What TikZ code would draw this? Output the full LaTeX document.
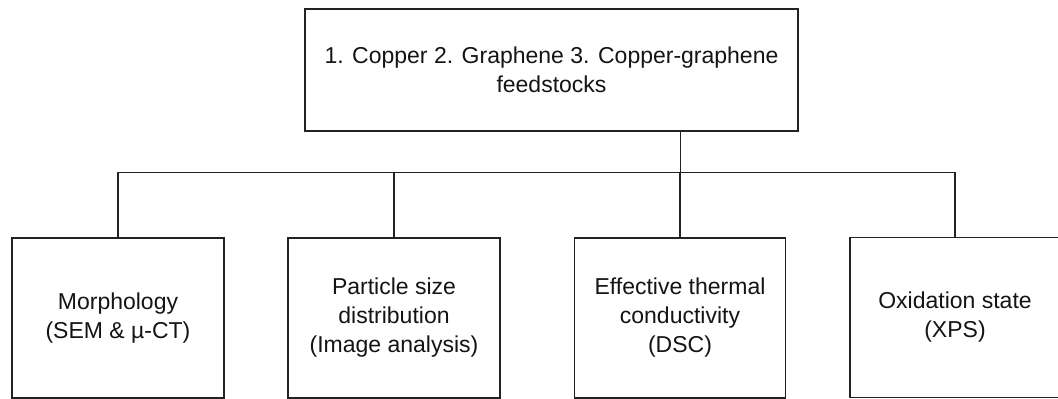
\documentclass[tikz,border=0pt]{standalone}
\usepackage{fontspec}
\setmainfont{Liberation Sans}
\definecolor{linec}{HTML}{222222}
\definecolor{textc}{HTML}{141414}
\begin{document}
\begin{tikzpicture}[x=1pt,y=-1pt,
  box/.style={draw=linec,line width=1.9pt,fill=white,inner sep=0pt,
    align=center,text=textc,
    font=\fontsize{23}{29}\selectfont},
  conn/.style={draw=linec,line width=1.9pt}]
\useasboundingbox (0,0) rectangle (1058,399);
\clip (0,0) rectangle (1058,399);
\fill[white] (0,0) rectangle (1058,399);
\node[box,minimum width=493pt,minimum height=122pt] (top) at (551.5,70)
  {1. Copper 2. Graphene 3. Copper-graphene\\feedstocks};
\node[box,minimum width=212pt,minimum height=160pt] (b1) at (118,318)
  {Morphology\\(SEM \& µ-CT)};
\node[box,minimum width=212pt,minimum height=160pt] (b2) at (394,318)
  {Particle size\\distribution\\(Image analysis)};
\node[box,minimum width=211pt,minimum height=160pt] (b3) at (680,318)
  {Effective thermal\\conductivity\\(DSC)};
\node[box,minimum width=210pt,minimum height=160pt] (b4) at (955,317.5)
  {Oxidation state\\(XPS)};
\coordinate (j) at (680.5,172.5);
\draw[conn] (j |- top.south) -- (j);
\draw[conn] (b1.north) |- (j) -| (b4.north);
\draw[conn] (b2.north) -- (b2.north |- j);
\draw[conn] (b3.north) -- (b3.north |- j);
\end{tikzpicture}
\end{document}
